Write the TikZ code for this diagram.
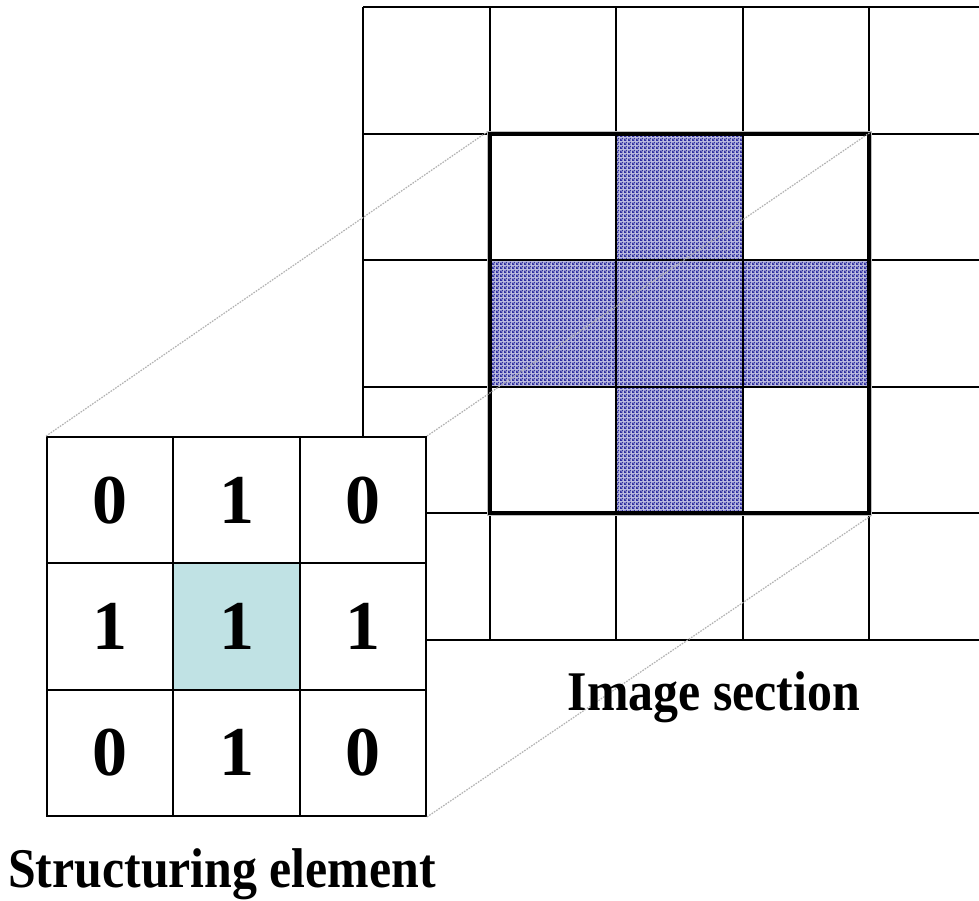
\documentclass[tikz,border=0pt]{standalone}
\usepackage{fontspec}
\setmainfont{Liberation Serif}
\newfontfamily\captionfont[FakeStretch=0.89]{Liberation Serif}
\usetikzlibrary{patterns}

% fine dither used for the marked pixels of the image section
\pgfdeclarepatternformonly{fineweave}{\pgfpointorigin}{\pgfpoint{4pt}{4pt}}{\pgfpoint{4pt}{4pt}}{%
  \pgfpathrectangle{\pgfpointorigin}{\pgfpoint{2pt}{2pt}}%
  \pgfpathrectangle{\pgfpoint{2pt}{2pt}}{\pgfpoint{2pt}{2pt}}%
  \pgfpathrectangle{\pgfpoint{2pt}{0pt}}{\pgfpoint{1pt}{1pt}}%
  \pgfpathrectangle{\pgfpoint{0pt}{2pt}}{\pgfpoint{1pt}{1pt}}%
  \pgfusepath{fill}}

\definecolor{weaveblue}{RGB}{48,48,160}
\definecolor{centrecyan}{RGB}{192,226,228}

\tikzset{
  gridline/.style={draw=black, line width=2pt},
  marked/.style={fill=weaveblue!30, postaction={pattern=fineweave, pattern color=weaveblue}},
  secell/.style={draw=black, line width=2pt, fill=white, inner sep=0pt,
    minimum width=126.3pt, minimum height=126.3pt,
    font=\bfseries\fontsize{70}{72}\selectfont},
  winbox/.style={draw=black, line width=4pt, inner sep=0pt,
    preaction={draw=gray!50, line width=5.5pt},
    minimum width=379.8pt, minimum height=379.8pt},
  guide/.style={draw=gray!60, line width=1.2pt, dash pattern=on 1.6pt off 1.2pt},
  caption/.style={font=\captionfont\bfseries\fontsize{56}{60}\selectfont,
    anchor=base, inner sep=0pt}
}

\begin{document}
\begin{tikzpicture}[x=1pt, y=-1pt]
  \useasboundingbox (0,0) rectangle (979,901);
  \fill[white] (0,0) rectangle (979,901);

  % image section: marked pixels
  \path[marked] (616.2,133.6) rectangle (742.8,260.2);
  \path[marked] (489.6,260.2) rectangle (869.4,386.8);
  \path[marked] (616.2,386.8) rectangle (742.8,513.4);

  % image section: pixel grid, running off the right edge
  \foreach \gy in {7,133.6,260.2,386.8,513.4,640}
    \draw[gridline] (363,\gy) -- (979,\gy);
  \foreach \gx in {363,489.6,616.2,742.8,869.4}
    \draw[gridline] (\gx,7) -- (\gx,640);

  % window under the structuring element
  \node[winbox] (win) at (679.5,323.5) {};

  % structuring element
  \node[secell] (s11) at (110.2,500.2) {0};
  \node[secell] (s12) at (236.5,500.2) {1};
  \node[secell] (s13) at (362.8,500.2) {0};
  \node[secell] (s21) at (110.2,626.5) {1};
  \node[secell, fill=centrecyan] (s22) at (236.5,626.5) {1};
  \node[secell] (s23) at (362.8,626.5) {1};
  \node[secell] (s31) at (110.2,752.8) {0};
  \node[secell] (s32) at (236.5,752.8) {1};
  \node[secell] (s33) at (362.8,752.8) {0};

  % projection guides
  \draw[guide] (s11.north west) -- (win.north west);
  \draw[guide] (s13.north east) -- (win.north east);
  \draw[guide] (s33.south east) -- (win.south east);

  % captions
  \node[caption] (imgcap) at (714,710) {Image section};
  \node[caption] (secap) at (222,887) {Structuring element};
\end{tikzpicture}
\end{document}
